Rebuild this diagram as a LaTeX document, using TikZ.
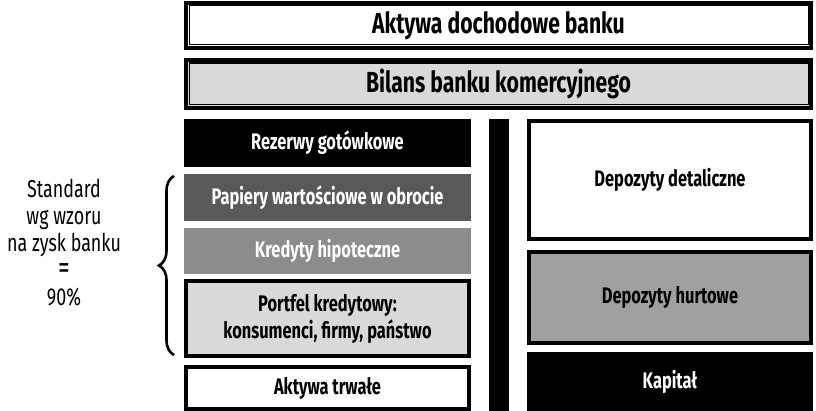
\documentclass[tikz,border=0pt]{standalone}
\usepackage{fontspec}
\setmainfont{Fira Sans}[FakeStretch=0.73]
\usetikzlibrary{decorations.pathreplacing}
\definecolor{gDark}{HTML}{595959}
\definecolor{gMid}{HTML}{8C8C8C}
\definecolor{gLight}{HTML}{D9D9D9}
\definecolor{gHurt}{HTML}{A0A0A0}
\begin{document}
\begin{tikzpicture}[x=1pt,y=-1pt,
  fillbox/.style={draw=none, inner sep=0pt, outer sep=0pt, align=center},
  bordbox/.style={draw=black, line width=3.7pt, inner sep=0pt, outer sep=0pt, align=center},
  thinline/.style={draw=black, line width=1.3pt},
  titlefont/.style={font=\fontsize{29}{30}\selectfont\bfseries},
  boxfont/.style={font=\fontsize{22.5}{30}\selectfont\bfseries},
  sidefont/.style={font=\fontsize{24.5}{27}\selectfont},
  bracestyle/.style={draw=black, line width=2.6pt, decorate, decoration={brace, amplitude=15pt, aspect=0.5}}
]
\useasboundingbox (0,0) rectangle (816,411);
\fill[white] (0,0) rectangle (816,411);

% top two title boxes with double border
\node[bordbox, titlefont, fill=white, minimum width=625.5pt, minimum height=45.5pt] (aktdoch) at (498.5,25.5) {Aktywa dochodowe banku};
\draw[thinline] ([shift={(3.75,2.75)}]aktdoch.north west) rectangle ([shift={(-2.95,-3.45)}]aktdoch.south east);

\node[bordbox, titlefont, fill=gLight, minimum width=625.5pt, minimum height=48.5pt] (bilans) at (498.5,84) {Bilans banku komercyjnego};
\draw[thinline] ([shift={(3.75,3.25)}]bilans.north west) rectangle ([shift={(-2.95,-3.75)}]bilans.south east);

% left column
\node[fillbox, boxfont, fill=black, text=white, minimum width=287pt, minimum height=48pt] (rez) at (327.5,143) {Rezerwy gotówkowe};
\node[fillbox, boxfont, fill=gDark, text=white, minimum width=287pt, minimum height=47pt] (pap) at (327.5,197.5) {Papiery wartościowe w obrocie};
\node[fillbox, boxfont, fill=gMid, text=white, minimum width=287pt, minimum height=46pt] (kred) at (327.5,251) {Kredyty hipoteczne};
\node[bordbox, boxfont, fill=gLight, minimum width=283.3pt, minimum height=75.3pt] (port) at (327.5,318.5) {\raisebox{-3pt}{Portfel kredytowy:}\\konsumenci, firmy, państwo};
\node[bordbox, boxfont, fill=white, minimum width=283.3pt, minimum height=42pt] (trw) at (327.5,388) {Aktywa trwałe};

% separator bar
\node[fillbox, fill=black, minimum width=20pt, minimum height=292pt] (bar) at (499,265) {};

% right column
\node[bordbox, boxfont, fill=white, minimum width=282.3pt, minimum height=117.7pt] (det) at (670,180) {\raisebox{-3pt}{Depozyty detaliczne}};
\node[bordbox, boxfont, fill=gHurt, minimum width=282.3pt, minimum height=91.3pt] (hurt) at (670,297.5) {\raisebox{-2pt}{Depozyty hurtowe}};
\node[fillbox, boxfont, fill=black, text=white, minimum width=286pt, minimum height=58.7pt] (kap) at (670,381.7) {Kapitał};

% side label and brace
\node[sidefont, align=center, inner sep=0pt] (std) at (64,243) {Standard\\wg wzoru\\na zysk banku\\{\fontsize{32}{27}\selectfont =}\\90\%};
\coordinate (bracetop) at (174,176);
\coordinate (bracebot) at (174,355);
\draw[bracestyle] (bracebot) -- (bracetop);
\end{tikzpicture}
\end{document}
